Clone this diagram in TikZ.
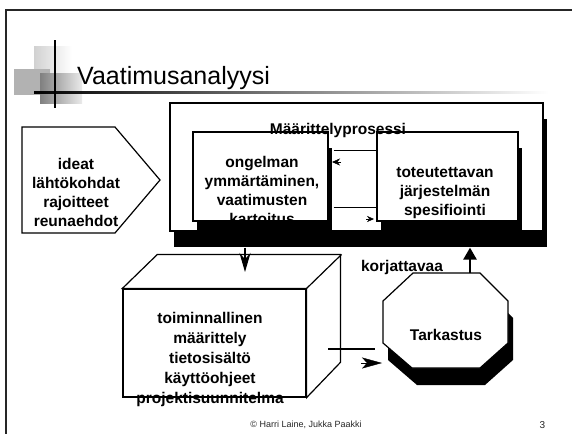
\documentclass[tikz,border=0pt]{standalone}
\usepackage{fontspec}
\setmainfont{Liberation Sans}
\usetikzlibrary{arrows.meta,shadows}

\tikzset{
  box/.style={draw, line width=1.2pt, fill=white, inner sep=0pt},
  shadowed/.style={drop shadow={shadow xshift=4pt, shadow yshift=-16pt, fill=black, opacity=1}},
  lbl/.style={font=\bfseries\fontsize{15.5}{19}\selectfont, align=center, inner sep=0pt},
}

\begin{document}
\begin{tikzpicture}[x=1pt, y=-1pt]
        \useasboundingbox (0,0) rectangle (572,434);

        % Slide frame
        \draw[line width=2pt, black!85] (572,10) -- (6,10) -- (6,434);

        % Title
        \shade[left color=black!18, right color=white] (34,46) rectangle (72,84);
        \fill[black!30] (14,69) rectangle (50,95);
        \shade[left color=black!50, right color=black!8] (40,73) rectangle (82,103);
        \shade[left color=black, right color=white] (34,91) rectangle (548,93.5);
        \draw[line width=2pt] (55,40) -- (55,108);
        \node[anchor=base west, inner sep=0pt, font=\fontsize{25}{30}\selectfont] (title) at (77,84) {Vaatimusanalyysi};

        % Input
        \draw[line width=1.2pt] (22,127) -- (115,127) -- (160,180) -- (115,233) -- (22,233) -- cycle;
        \node[lbl] (ideas) at (76,192) {ideat\\lähtökohdat\\rajoitteet\\reunaehdot};

        % Process
        \node[box, shadowed, minimum width=373pt, minimum height=128pt] (proc) at (356.5,167) {};
        \node[box, shadowed, minimum width=135pt, minimum height=89pt] (ong) at (260.5,176.5) {};
        \node[box, shadowed, minimum width=141pt, minimum height=89pt] (spec) at (447.5,176.5) {};
        \node[lbl] (ongtxt) at (262,190.5) {ongelman\\ymmärtäminen,\\vaatimusten\\kartoitus};
        \node[lbl] (spectxt) at (445,193) {toteutettavan\\järjestelmän\\spesifiointi};
        \node[lbl] (proctxt) at (338,130) {Määrittelyprosessi};

        \draw[line width=1pt] ([xshift=5pt]ong.east |- 0,150) -- (spec.west |- 0,150);
        \draw[line width=1pt] ([xshift=5pt]ong.east |- 0,207) -- (spec.west |- 0,207);
        \draw[-{Stealth[length=8pt,width=7pt]}] (341,162) -- (332,162);
        \draw[-{Stealth[length=7pt,width=6pt]}] (366,219) -- (374,219);

        % Result
        \node[box, minimum width=183pt, minimum height=108pt] (doc) at (214.5,343) {};
        \filldraw[line width=1.2pt, fill=white] (doc.north west) -- ++(35,-34) -- ++(183,0) -- ++(0,108)
            -- (doc.south east) -- (doc.north east) -- cycle;
        \draw[line width=1.2pt] (doc.north east) -- ++(35,-34);
        \node[lbl, font=\bfseries\fontsize{15.5}{20}\selectfont] (doctxt) at (210,359)
            {toiminnallinen\\määrittely\\tietosisältö\\käyttöohjeet\\projektisuunnitelma};

        % Review
        \fill[black, shift={(5,17)}] (413,273) -- (480,273) -- (508,301) -- (508,343) -- (480,368)
            -- (412,368) -- (383,343) -- (383,301) -- cycle;
        \filldraw[line width=1.2pt, fill=white] (413,273) -- (480,273) -- (508,301) -- (508,343) -- (480,368)
            -- (412,368) -- (383,343) -- (383,301) -- cycle;
        \node[lbl] (tark) at (446,335) {Tarkastus};
        \node[lbl] (fix) at (402,267) {korjattavaa};

        % Flow
        \coordinate (docin) at (245,272);
        \coordinate (docout) at (328,349);
        \coordinate (tarkin) at (375,349);
        \coordinate (tarkout) at (470,273);
        \draw[line width=1.2pt, -{Stealth[length=19pt,width=11pt]}] ([yshift=-16pt]proc.south -| docin) -- (docin);
        \draw[line width=2.5pt] (docout) -- (tarkin);
        \draw[-{Stealth[length=20pt,width=11pt,inset=5pt]}] (361,363) -- (382,363);
        \draw[line width=2.5pt, -{Triangle[length=12pt,width=13pt]}] (tarkout) -- ([yshift=-16pt]proc.south -| tarkout);

        % Footer
        \node[font=\fontsize{9}{11}\selectfont, text=black!85] (copy) at (306,425) {© Harri Laine, Jukka Paakki};
        \node[font=\fontsize{10}{12}\selectfont, text=black!85] (page) at (542.5,425) {3};
\end{tikzpicture}
\end{document}
